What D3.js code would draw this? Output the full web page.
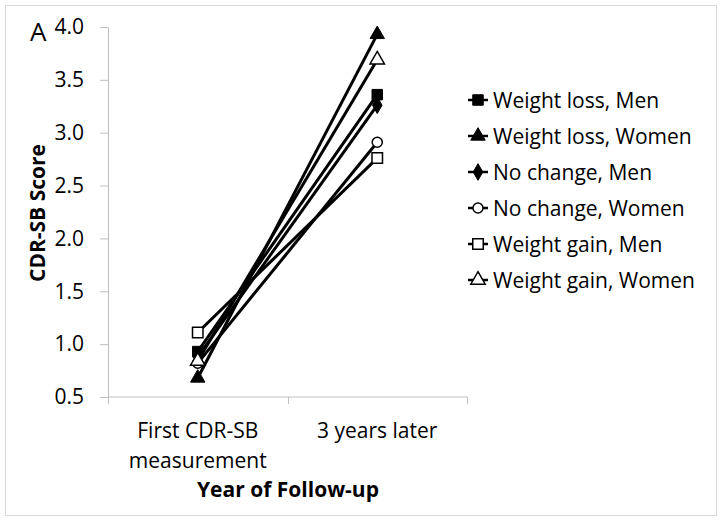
<!DOCTYPE html>
<html><head><meta charset="utf-8">
<script src="https://cdn.jsdelivr.net/npm/d3@7"></script>
<style>body{margin:0;background:#fff}svg{display:block}text{font-family:"Open Sans",sans-serif;fill:#000}</style>
</head><body><svg id="c" width="725" height="524"></svg>
<script>
const categories = ["First CDR-SB|measurement", "3 years later"];
const seriesNames = ["Weight loss, Men","Weight loss, Women","No change, Men","No change, Women","Weight gain, Men","Weight gain, Women"];
const seriesMarkers = ["square","triangle","diamond","circle","square","triangle"];
const seriesFilled = [true,true,true,false,false,false];
const lossMen = [0.93, 3.36];
const lossWomen = [0.68, 3.93];
const noChangeMen = [0.88, 3.26];
const noChangeWomen = [0.82, 2.91];
const gainMen = [1.11, 2.76];
const gainWomen = [0.84, 3.69];
const yTicks = [0.5,1.0,1.5,2.0,2.5,3.0,3.5,4.0];
const allSeries = [lossMen, lossWomen, noChangeMen, noChangeWomen, gainMen, gainWomen];

const FS = 21;
const svg = d3.select("#c");
svg.append("rect").attr("x",5.5).attr("y",5.5).attr("width",711).attr("height",510)
  .attr("fill","#fff").attr("stroke","#d9d9d9");

const x = d3.scaleBand().domain(categories).range([108,467]);
const y = d3.scaleLinear().domain([0.5,4.0]).range([397,27]);

// y axis
const ya = svg.append("g").attr("transform","translate(108,0)")
  .call(d3.axisLeft(y).tickValues(yTicks).tickFormat(d3.format(".1f")).tickSize(8).tickPadding(16));
ya.select(".domain").attr("stroke","#bfbfbf").attr("d","M-8,27.5H0.5V397.5");
ya.selectAll(".tick line").attr("stroke","#bfbfbf");
ya.selectAll(".tick text").attr("font-size",FS).attr("font-family","Open Sans").attr("fill","#000");

// x axis
const xa = svg.append("g").attr("transform","translate(0,397)")
  .call(d3.axisBottom(x).tickSize(0).tickFormat(""));
xa.select(".domain").attr("stroke","#bfbfbf").attr("d","M108.5,0H467.5");
const bounds = [108, 108 + x.step(), 467];
xa.selectAll(".sep").data(bounds).join("line").attr("class","sep")
  .attr("x1",d=>Math.round(d)+0.5).attr("x2",d=>Math.round(d)+0.5).attr("y1",0).attr("y2",7).attr("stroke","#bfbfbf");
categories.forEach(c=>{
  const lines = c.split("|");
  lines.forEach((l,i)=>{
    svg.append("text").attr("x",x(c)+x.bandwidth()/2).attr("y",438+i*30)
      .attr("text-anchor","middle").attr("font-size",FS).text(l);
  });
});

// titles
svg.append("text").attr("x",288).attr("y",497).attr("text-anchor","middle")
  .attr("font-size",FS).attr("font-weight","bold").text("Year of Follow-up");
svg.append("text").attr("transform","translate(45,213) rotate(-90)").attr("text-anchor","middle")
  .attr("font-size",FS).attr("font-weight","bold").text("CDR-SB Score");
svg.append("text").attr("x",30).attr("y",41).attr("font-size",26).text("A");

const symType = {square:d3.symbolSquare, triangle:d3.symbolTriangle, diamond:d3.symbolDiamond, circle:d3.symbolCircle};
const symSize = {square:110, triangle:90, diamond:80, circle:80};
function marker(g, i, cx, cy){
  const m = seriesMarkers[i];
  g.append("path").attr("d", d3.symbol().type(symType[m]).size(symSize[m])())
    .attr("transform",`translate(${cx},${cy})`)
    .attr("fill", seriesFilled[i] ? "#000" : "#fff")
    .attr("stroke","#000").attr("stroke-width", seriesFilled[i]?1:1.5);
}

const line = d3.line().x((d,i)=>x(categories[i])+x.bandwidth()/2).y(d=>y(d));
const plot = svg.append("g");
allSeries.forEach((s,i)=>{
  plot.append("path").attr("d",line(s)).attr("fill","none").attr("stroke","#000").attr("stroke-width",3);
});
allSeries.forEach((s,i)=>{
  s.forEach((v,j)=> marker(plot, i, x(categories[j])+x.bandwidth()/2, y(v)));
});

// legend
const lg = svg.append("g");
seriesNames.forEach((n,i)=>{
  const cy = 100 + i*36;
  lg.append("line").attr("x1",468).attr("x2",488).attr("y1",cy).attr("y2",cy).attr("stroke","#000").attr("stroke-width",2.5);
  marker(lg, i, 478, cy);
  lg.append("text").attr("x",493).attr("y",cy+7.5).attr("font-size",FS).text(n);
});
</script></body></html>
